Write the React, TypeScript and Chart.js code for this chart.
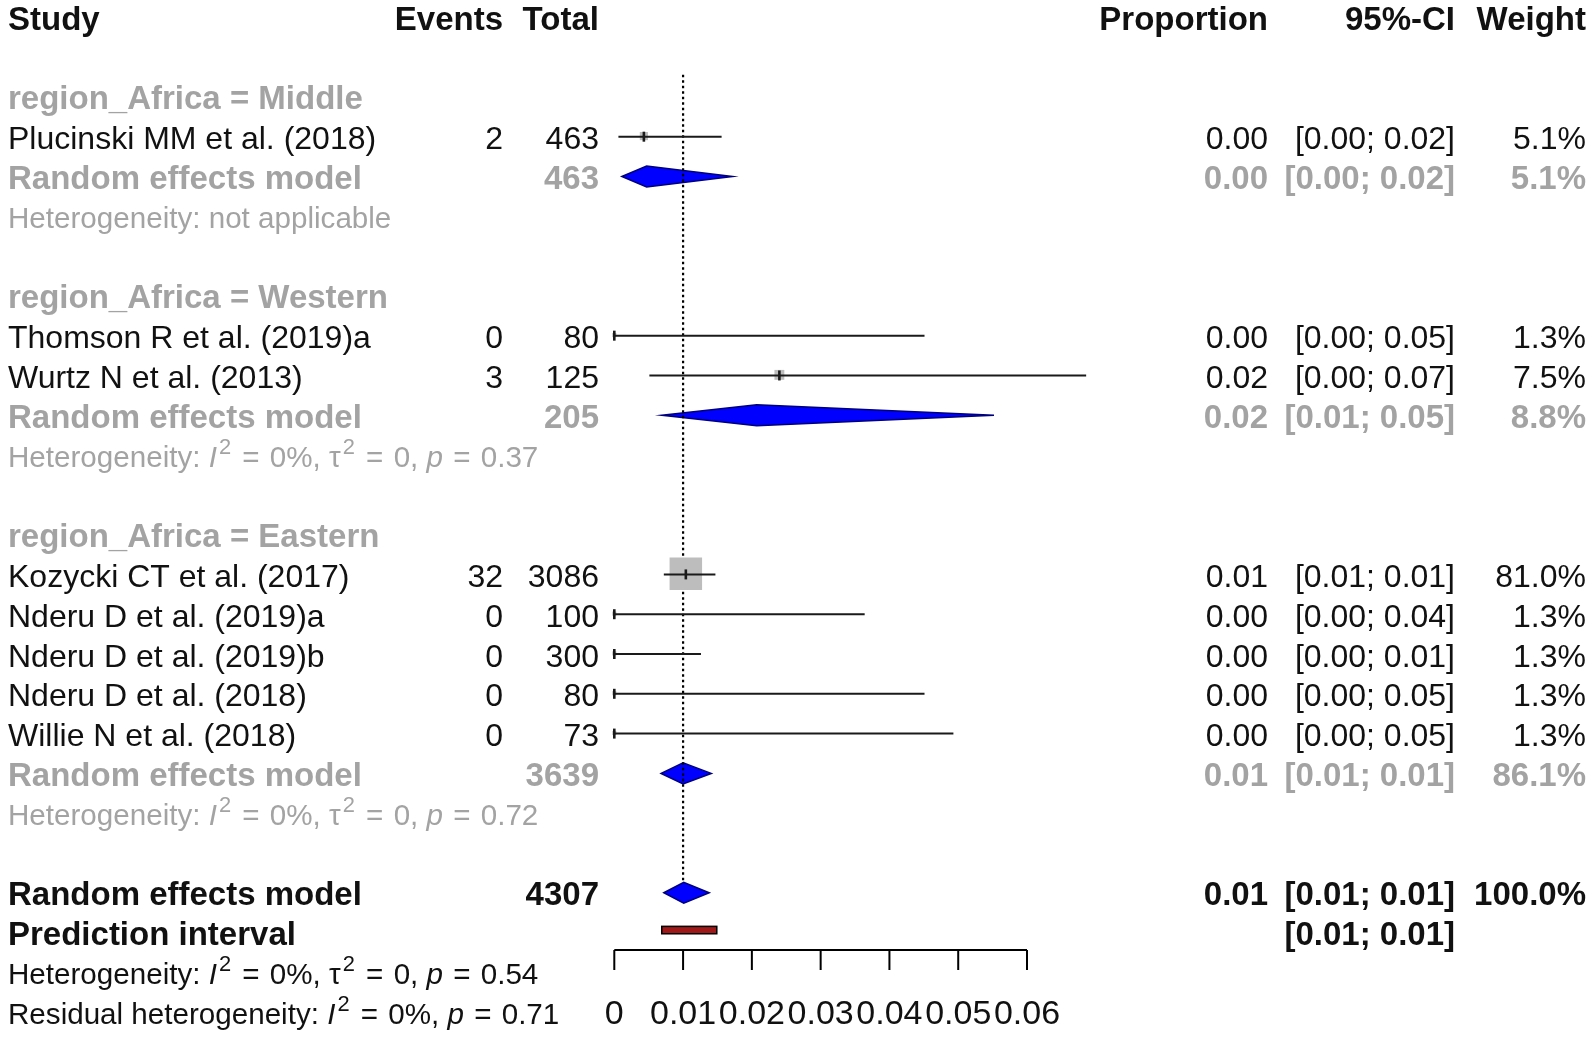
import { useEffect, useRef } from "react";
import { Chart, registerables } from "chart.js";

Chart.register(...registerables);

// ---------- data ----------
const groupNames = ["region_Africa = Middle", "region_Africa = Western", "region_Africa = Eastern"];
const studyNames = [
  "Plucinski MM et al. (2018)",
  "Thomson R et al. (2019)a",
  "Wurtz N et al. (2013)",
  "Kozycki CT et al. (2017)",
  "Nderu D et al. (2019)a",
  "Nderu D et al. (2019)b",
  "Nderu D et al. (2018)",
  "Willie N et al. (2018)",
];
const studyGroup = [0, 1, 1, 2, 2, 2, 2, 2];
const studyEvents = [2, 0, 3, 32, 0, 0, 0, 0];
const studyTotals = [463, 80, 125, 3086, 100, 300, 80, 73];
const studyEst = [0.0043, 0, 0.024, 0.0104, 0, 0, 0, 0];
const studyLower = [0.0006, 0, 0.0051, 0.0072, 0, 0, 0, 0];
const studyUpper = [0.0156, 0.0451, 0.0686, 0.0147, 0.0364, 0.0126, 0.0451, 0.0493];
const studyWeight = [5.1, 1.3, 7.5, 81.0, 1.3, 1.3, 1.3, 1.3];
const studyProp = ["0.00", "0.00", "0.02", "0.01", "0.00", "0.00", "0.00", "0.00"];
const studyCI = ["[0.00; 0.02]", "[0.00; 0.05]", "[0.00; 0.07]", "[0.01; 0.01]", "[0.00; 0.04]", "[0.00; 0.01]", "[0.00; 0.05]", "[0.00; 0.05]"];
const studyWeightLabel = ["5.1%", "1.3%", "7.5%", "81.0%", "1.3%", "1.3%", "1.3%", "1.3%"];

const groupTotals = [463, 205, 3639];
const groupEst = [0.0047, 0.0207, 0.01];
const groupLower = [0.0011, 0.0069, 0.0068];
const groupUpper = [0.0172, 0.0552, 0.0141];
const groupProp = ["0.00", "0.02", "0.01"];
const groupCI = ["[0.00; 0.02]", "[0.01; 0.05]", "[0.01; 0.01]"];
const groupWeightLabel = ["5.1%", "8.8%", "86.1%"];
const groupHetI2 = [null, "0%", "0%"];
const groupHetTau2 = [null, "0", "0"];
const groupHetP = [null, "0.37", "0.72"];

const overallTotal = 4307;
const overallEst = 0.0101;
const overallLower = 0.0072;
const overallUpper = 0.0138;
const overallProp = "0.01";
const overallCI = "[0.01; 0.01]";
const overallWeight = "100.0%";
const predLower = 0.0069;
const predUpper = 0.0149;
const predCI = "[0.01; 0.01]";
const overallHetI2 = "0%";
const overallHetTau2 = "0";
const overallHetP = "0.54";
const residI2 = "0%";
const residP = "0.71";

const refValue = 0.01;
const xTicks = [0, 0.01, 0.02, 0.03, 0.04, 0.05, 0.06];
const xTickLabels = ["0", "0.01", "0.02", "0.03", "0.04", "0.05", "0.06"];

// ---------- layout helpers ----------
const FONT = '"Liberation Sans", Arial, Helvetica, sans-serif';
const GRAY = "#a3a3a3";
const BLACK = "#111";
const HET_SIZE = 29.6;

function buildRows() {
  let r = 2;
  const groupLabelRow: number[] = [];
  const studyRow: number[] = new Array(studyNames.length).fill(0);
  const groupRemRow: number[] = [];
  const groupHetRow: number[] = [];
  groupNames.forEach((_, g) => {
    groupLabelRow.push(r++);
    studyNames.forEach((_, i) => {
      if (studyGroup[i] === g) studyRow[i] = r++;
    });
    groupRemRow.push(r++);
    groupHetRow.push(r++);
    r++;
  });
  const overallRow = r++;
  const predRow = r++;
  const hetRow = r++;
  const residRow = r++;
  return { groupLabelRow, studyRow, groupRemRow, groupHetRow, overallRow, predRow, hetRow, residRow };
}

const rows = buildRows();

type Seg = [string, "n" | "i" | "s" | "e"];

function drawSegs(ctx: CanvasRenderingContext2D, segs: Seg[], x: number, y: number, size: number, color: string) {
  ctx.fillStyle = color;
  ctx.textAlign = "left";
  ctx.textBaseline = "alphabetic";
  let cx = x;
  for (const [t, s] of segs) {
    if (s === "s") {
      ctx.font = `${size * 0.74}px ${FONT}`;
      ctx.fillText(t, cx + 2, y - size * 0.45);
      cx += ctx.measureText(t).width + 3;
    } else if (s === "e") {
      ctx.font = `${size}px ${FONT}`;
      cx += 2;
      ctx.fillText(t, cx, y);
      cx += ctx.measureText(t).width + 2;
    } else {
      ctx.font = `${s === "i" ? "italic " : ""}${size}px ${FONT}`;
      ctx.fillText(t, cx, y);
      cx += ctx.measureText(t).width;
    }
  }
}

function hetSegs(i2: string, tau2: string | null, p: string, prefix = "Heterogeneity: "): Seg[] {
  const s: Seg[] = [[prefix, "n"], ["I", "i"], ["2", "s"], [" = ", "e"], [i2 + ", ", "n"]];
  if (tau2 !== null) s.push(["τ", "n"], ["2", "s"], [" = ", "e"], [tau2 + ", ", "n"]);
  s.push(["p", "i"], [" = ", "e"], [p, "n"]);
  return s;
}

const forestPlugin = {
  id: "forest",
  beforeDraw(chart: any) {
    const ctx = chart.ctx;
    ctx.save();
    ctx.fillStyle = "#fff";
    ctx.fillRect(0, 0, chart.width, chart.height);
    ctx.restore();
  },
  beforeDatasetsDraw(chart: any) {
    const ctx: CanvasRenderingContext2D = chart.ctx;
    const xs = chart.scales.x;
    const ys = chart.scales.y;
    const X = (v: number) => xs.getPixelForValue(v);
    const Y = (v: number) => ys.getPixelForValue(v);
    const halfH = 10.5;
    const diamond = (lo: number, est: number, hi: number, row: number) => {
      const y = Y(row) - 1;
      ctx.beginPath();
      ctx.moveTo(X(lo), y);
      ctx.lineTo(X(est), y - halfH);
      ctx.lineTo(X(hi), y);
      ctx.lineTo(X(est), y + halfH);
      ctx.closePath();
      ctx.fillStyle = "#0000ff";
      ctx.fill();
      ctx.strokeStyle = "#00007a";
      ctx.lineWidth = 1.5;
      ctx.stroke();
    };
    ctx.save();
    groupEst.forEach((e, g) => diamond(groupLower[g], e, groupUpper[g], rows.groupRemRow[g]));
    diamond(overallLower, overallEst, overallUpper, rows.overallRow);
    // dotted reference line
    ctx.beginPath();
    ctx.setLineDash([2.5, 3]);
    ctx.strokeStyle = "#000";
    ctx.lineWidth = 2.2;
    ctx.moveTo(X(refValue), Y(1.42));
    ctx.lineTo(X(refValue), Y(rows.overallRow) - 1 - halfH);
    ctx.stroke();
    ctx.setLineDash([]);
    ctx.restore();
  },
  afterDatasetsDraw(chart: any) {
    const ctx: CanvasRenderingContext2D = chart.ctx;
    const xs = chart.scales.x;
    const ys = chart.scales.y;
    const X = (v: number) => xs.getPixelForValue(v);
    const Y = (v: number) => ys.getPixelForValue(v);
    ctx.save();
    // CI lines
    ctx.strokeStyle = "#1a1a1a";
    studyNames.forEach((_, i) => {
      const y = Y(rows.studyRow[i]) - 1;
      ctx.lineWidth = 2;
      ctx.beginPath();
      ctx.moveTo(X(studyLower[i]), y);
      ctx.lineTo(X(studyUpper[i]), y);
      ctx.stroke();
      ctx.lineWidth = 2.6;
      ctx.beginPath();
      ctx.moveTo(X(studyEst[i]), y - 5);
      ctx.lineTo(X(studyEst[i]), y + 5);
      ctx.stroke();
    });
    // prediction interval
    {
      const y = Y(rows.predRow) - 3.5;
      ctx.fillStyle = "#a01818";
      ctx.strokeStyle = "#000";
      ctx.lineWidth = 1.5;
      ctx.fillRect(X(predLower), y - 3.7, X(predUpper) - X(predLower), 7.4);
      ctx.strokeRect(X(predLower), y - 3.7, X(predUpper) - X(predLower), 7.4);
    }
    // axis
    {
      const ay = 950;
      ctx.strokeStyle = "#000";
      ctx.lineWidth = 2;
      ctx.beginPath();
      ctx.moveTo(X(xTicks[0]), ay);
      ctx.lineTo(X(xTicks[xTicks.length - 1]), ay);
      xTicks.forEach((t) => {
        ctx.moveTo(X(t), ay);
        ctx.lineTo(X(t), ay + 20);
      });
      ctx.stroke();
      ctx.font = `34px ${FONT}`;
      ctx.fillStyle = BLACK;
      ctx.textAlign = "center";
      ctx.textBaseline = "alphabetic";
      xTicks.forEach((t, k) => ctx.fillText(xTickLabels[k], X(t), Y(rows.residRow) + 11));
    }

    // text
    const REG = `32px ${FONT}`;
    const BOLD = `bold 33px ${FONT}`;
    const txt = (s: string, x: number, row: number, font: string, color: string, align: CanvasTextAlign) => {
      ctx.font = font;
      ctx.fillStyle = color;
      ctx.textAlign = align;
      ctx.textBaseline = "alphabetic";
      ctx.fillText(s, x, Y(row) + 11.5);
    };
    const colStudy = 8, colEvents = 503, colTotal = 599, colProp = 1268, colCI = 1455, colW = 1586;
    // header
    txt("Study", colStudy, 0, BOLD, BLACK, "left");
    txt("Events", colEvents, 0, BOLD, BLACK, "right");
    txt("Total", colTotal, 0, BOLD, BLACK, "right");
    txt("Proportion", colProp, 0, BOLD, BLACK, "right");
    txt("95%-CI", colCI, 0, BOLD, BLACK, "right");
    txt("Weight", colW, 0, BOLD, BLACK, "right");

    groupNames.forEach((name, g) => {
      txt(name, colStudy, rows.groupLabelRow[g], BOLD, GRAY, "left");
      const rr = rows.groupRemRow[g];
      txt("Random effects model", colStudy, rr, BOLD, GRAY, "left");
      txt(String(groupTotals[g]), colTotal, rr, BOLD, GRAY, "right");
      txt(groupProp[g], colProp, rr, BOLD, GRAY, "right");
      txt(groupCI[g], colCI, rr, BOLD, GRAY, "right");
      txt(groupWeightLabel[g], colW, rr, BOLD, GRAY, "right");
      const hy = Y(rows.groupHetRow[g]) + 10.8;
      if (groupHetI2[g] === null) {
        drawSegs(ctx, [["Heterogeneity: not applicable", "n"]], colStudy, hy, HET_SIZE, GRAY);
      } else {
        drawSegs(ctx, hetSegs(groupHetI2[g] as string, groupHetTau2[g], groupHetP[g] as string), colStudy, hy, HET_SIZE, GRAY);
      }
    });
    studyNames.forEach((name, i) => {
      const r = rows.studyRow[i];
      txt(name, colStudy, r, REG, BLACK, "left");
      txt(String(studyEvents[i]), colEvents, r, REG, BLACK, "right");
      txt(String(studyTotals[i]), colTotal, r, REG, BLACK, "right");
      txt(studyProp[i], colProp, r, REG, BLACK, "right");
      txt(studyCI[i], colCI, r, REG, BLACK, "right");
      txt(studyWeightLabel[i], colW, r, REG, BLACK, "right");
    });
    txt("Random effects model", colStudy, rows.overallRow, BOLD, BLACK, "left");
    txt(String(overallTotal), colTotal, rows.overallRow, BOLD, BLACK, "right");
    txt(overallProp, colProp, rows.overallRow, BOLD, BLACK, "right");
    txt(overallCI, colCI, rows.overallRow, BOLD, BLACK, "right");
    txt(overallWeight, colW, rows.overallRow, BOLD, BLACK, "right");
    txt("Prediction interval", colStudy, rows.predRow, BOLD, BLACK, "left");
    txt(predCI, colCI, rows.predRow, BOLD, BLACK, "right");
    drawSegs(ctx, hetSegs(overallHetI2, overallHetTau2, overallHetP), colStudy, Y(rows.hetRow) + 10.8, HET_SIZE, BLACK);
    drawSegs(ctx, hetSegs(residI2, null, residP, "Residual heterogeneity: "), colStudy, Y(rows.residRow) + 10.8, HET_SIZE, BLACK);
    ctx.restore();
  },
};

export default function App() {
  const ref = useRef<HTMLCanvasElement>(null);
  useEffect(() => {
    document.body.style.margin = "0";
    const maxW = Math.max(...studyWeight);
    const chart = new Chart(ref.current as HTMLCanvasElement, {
      type: "scatter",
      data: {
        datasets: [
          {
            label: "Studies",
            data: studyEst.map((e, i) => ({ x: e, y: rows.studyRow[i] - 0.04 })),
            pointStyle: "rect",
            pointRadius: studyWeight.map((w) => (32.5 * Math.sqrt(w / maxW)) / Math.SQRT2),
            backgroundColor: "#bdbdbd",
            borderWidth: 0,
            clip: false,
          } as any,
        ],
      },
      options: {
        responsive: false,
        animation: false,
        events: [],
        layout: { autoPadding: false, padding: { left: 614.3, right: 1594 - 1027, top: 0, bottom: 0 } },
        plugins: { legend: { display: false }, tooltip: { enabled: false } },
        scales: {
          x: { type: "linear", min: 0, max: 0.06, display: false },
          y: { type: "linear", min: -0.46, max: 25.7, reverse: true, display: false },
        },
      } as any,
      plugins: [forestPlugin],
    });
    return () => chart.destroy();
  }, []);
  return (
    <div style={{ position: "absolute", left: 0, top: 0, width: 1594, height: 1041, background: "#fff" }}>
      <canvas ref={ref} width={1594} height={1041} style={{ display: "block" }} />
    </div>
  );
}
